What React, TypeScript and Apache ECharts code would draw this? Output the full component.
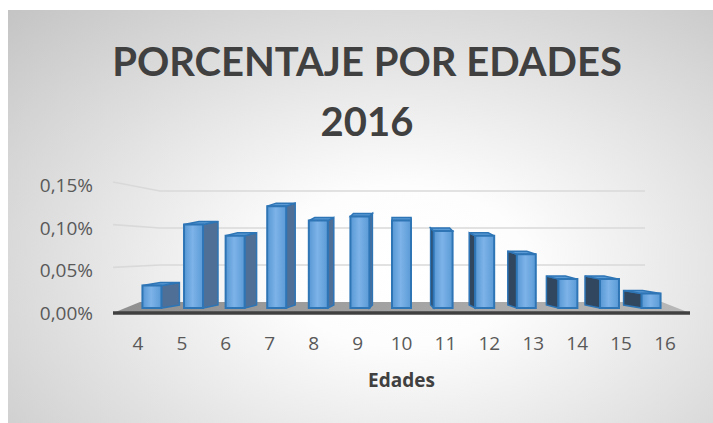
import React, { useEffect, useRef } from 'react';
import * as echarts from 'echarts';

const ages = ['4', '5', '6', '7', '8', '9', '10', '11', '12', '13', '14', '15', '16'];
const percentages = [0.028, 0.104, 0.09, 0.127, 0.109, 0.114, 0.109, 0.096, 0.09, 0.067, 0.036, 0.036, 0.018];
const yTicks = [0.05, 0.1, 0.15];
const titleLines = ['PORCENTAJE POR EDADES', '2016'];
const xAxisTitle = 'Edades';

export default function App() {
  const ref = useRef<HTMLDivElement>(null);
  useEffect(() => {
    const chart = echarts.init(ref.current as HTMLDivElement, null, { renderer: 'svg' });
    const fmt = (v: number) => v.toFixed(2).replace('.', ',') + '%';

    const barRender = (params: any, api: any) => {
      const cs = params.coordSys;
      const vx = cs.x + cs.width / 2;
      const i = api.value(0);
      const v = api.value(1);
      const top = api.coord([i, v]);
      const base = api.coord([i, 0]);
      const xf = base[0] + (vx - base[0]) * 0.053;
      const w = 19;
      const xl = xf - w / 2;
      const xr = xf + w / 2;
      const yb = base[1] - 5;
      const yt = yb - (base[1] - top[1]) * 0.94;
      const dx = (vx - xf) * 0.072;
      const dy = -3;
      const edge = dx >= 0 ? xr : xl;
      const sideColor = dx >= 0 ? '#4f6f96' : '#30475f';
      const stroke = '#2e75b6';
      return {
        type: 'group',
        children: [
          {
            type: 'polygon',
            shape: { points: [[edge, yt], [edge + dx, yt + dy], [edge + dx, yb + dy], [edge, yb]] },
            style: { fill: sideColor, stroke, lineWidth: 1.5 },
          },
          {
            type: 'polygon',
            shape: { points: [[xl, yt], [xr, yt], [xr + dx, yt + dy], [xl + dx, yt + dy]] },
            style: { fill: '#5b9bd5', stroke, lineWidth: 1.5 },
          },
          {
            type: 'rect',
            shape: { x: xl, y: yt, width: w, height: yb - yt },
            style: {
              fill: new echarts.graphic.LinearGradient(0, 0, 1, 0, [
                { offset: 0, color: '#5797d4' },
                { offset: 0.45, color: '#7db3e8' },
                { offset: 1, color: '#5a9ad6' },
              ]),
              stroke,
              lineWidth: 2,
            },
          },
        ],
      };
    };

    const gridRender = (params: any, api: any) => {
      const cs = params.coordSys;
      const v = api.value(1);
      const y = api.coord([0, v])[1];
      const base = api.coord([0, 0])[1];
      const yBack = base - 11 - (base - y) * 0.867;
      return {
        type: 'polyline',
        shape: { points: [[cs.x - 3, y - 3], [cs.x + 44, yBack], [cs.x + cs.width - 42, yBack]] },
        style: { stroke: '#d9d9d9', lineWidth: 1.6, fill: 'none' },
      };
    };

    const floorRender = (params: any, api: any) => {
      const cs = params.coordSys;
      const base = api.coord([0, 0])[1];
      return {
        type: 'group',
        children: [
          {
            type: 'polygon',
            shape: {
              points: [
                [cs.x - 3, base],
                [cs.x + cs.width + 3, base],
                [cs.x + cs.width - 25, base - 11],
                [cs.x + 24, base - 11],
              ],
            },
            style: {
              fill: new echarts.graphic.LinearGradient(0, 0, 1, 0, [
                { offset: 0, color: '#8f8f8f' },
                { offset: 0.5, color: '#a3a3a3' },
                { offset: 1, color: '#b8b8b8' },
              ]),
            },
          },
          {
            type: 'line',
            shape: { x1: cs.x - 3, y1: base, x2: cs.x + cs.width + 3, y2: base },
            style: { stroke: '#404040', lineWidth: 3.5 },
          },
        ],
      };
    };

    chart.setOption({
      animation: false,
      grid: { left: 116, right: 26, top: 185, bottom: 110, containLabel: false },
      xAxis: {
        type: 'category',
        data: ages,
        axisLine: { show: false },
        axisTick: { show: false },
        axisLabel: { fontSize: 19, color: '#595959', fontFamily: 'Open Sans', margin: 20 },
        name: xAxisTitle,
        nameLocation: 'middle',
        nameGap: 57,
        nameTextStyle: { fontSize: 19, fontWeight: 'bold', color: '#404040', fontFamily: 'Open Sans' },
      },
      yAxis: {
        type: 'value',
        min: 0,
        max: 0.15,
        interval: 0.05,
        axisLine: { show: false },
        axisTick: { show: false },
        splitLine: { show: false },
        axisLabel: { fontSize: 19, color: '#595959', fontFamily: 'Open Sans', margin: 23, formatter: fmt },
      },
      graphic: titleLines.map((t, k) => ({
        type: 'text',
        x: 367,
        y: 61 + k * 60,
        style: {
          text: t,
          fontSize: 40,
          fontWeight: 'bold',
          fontFamily: 'Lato',
          fill: '#404040',
          align: 'center',
          verticalAlign: 'middle',
        },
      })),
      series: [
        {
          type: 'custom',
          z: 1,
          data: yTicks.map((v) => [0, v]),
          renderItem: gridRender,
          silent: true,
        },
        {
          type: 'custom',
          z: 2,
          data: [[0, 0]],
          renderItem: floorRender,
          silent: true,
        },
        {
          type: 'custom',
          z: 3,
          data: ages.map((_, i) => [i, percentages[i]]),
          renderItem: barRender,
        },
      ],
    });
    return () => chart.dispose();
  }, []);

  return (
    <div style={{ position: 'fixed', left: 0, top: 0, width: 713, height: 423, background: '#ffffff' }}>
      <div
        style={{
          position: 'absolute',
          left: 8,
          top: 10,
          width: 705,
          height: 413,
          background: 'radial-gradient(ellipse farthest-corner at 56% 62%, #ffffff 0%, #fdfdfd 22%, #c4c4c4 100%)',
        }}
      />
      <div ref={ref} style={{ position: 'absolute', left: 0, top: 0, width: 713, height: 423 }} />
    </div>
  );
}
